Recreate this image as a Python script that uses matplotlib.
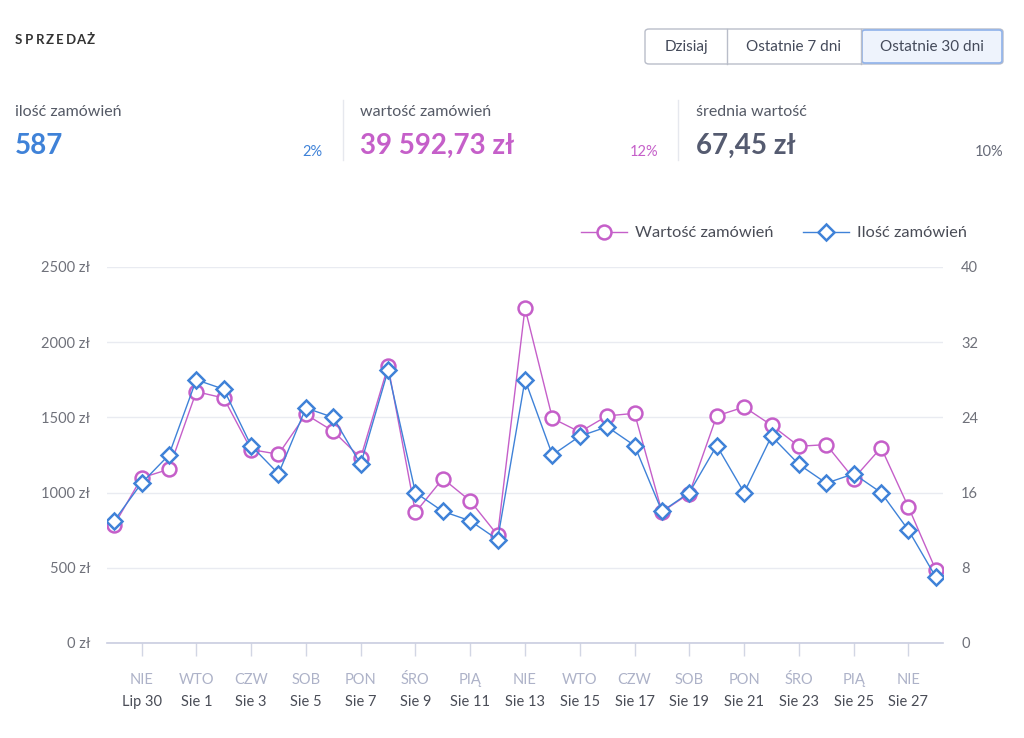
import matplotlib
matplotlib.use("Agg")
import matplotlib.pyplot as plt
from matplotlib.patches import FancyBboxPatch
from matplotlib.lines import Line2D
import matplotlib.transforms as mtransforms

plt.rcParams['font.family'] = ['Lato', 'DejaVu Sans']

# ---------------- data ----------------
dates = ["Lip 29", "Lip 30", "Lip 31",
         "Sie 1", "Sie 2", "Sie 3", "Sie 4", "Sie 5", "Sie 6", "Sie 7",
         "Sie 8", "Sie 9", "Sie 10", "Sie 11", "Sie 12", "Sie 13", "Sie 14",
         "Sie 15", "Sie 16", "Sie 17", "Sie 18", "Sie 19", "Sie 20", "Sie 21",
         "Sie 22", "Sie 23", "Sie 24", "Sie 25", "Sie 26", "Sie 27", "Sie 28"]
weekdays = ["SOB", "NIE", "PON", "WTO", "ŚRO", "CZW", "PIĄ",
            "SOB", "NIE", "PON", "WTO", "ŚRO", "CZW", "PIĄ",
            "SOB", "NIE", "PON", "WTO", "ŚRO", "CZW", "PIĄ",
            "SOB", "NIE", "PON", "WTO", "ŚRO", "CZW", "PIĄ",
            "SOB", "NIE", "PON"]

wartosc = [784, 1098, 1155, 1671, 1629, 1286, 1255, 1520, 1408, 1231, 1841,
           868, 1093, 945, 717, 2227, 1494, 1403, 1510, 1527, 872, 994,
           1510, 1569, 1448, 1308, 1319, 1093, 1299, 903, 485]
ilosc = [13, 17, 20, 28, 27, 21, 18, 25, 24, 19, 29, 16, 14, 13, 11, 28,
         20, 22, 23, 21, 14, 16, 21, 16, 22, 19, 17, 18, 16, 12, 7]

left_ticks = [0, 500, 1000, 1500, 2000, 2500]
left_ticklabels = ["0 zł", "500 zł", "1000 zł", "1500 zł", "2000 zł", "2500 zł"]
right_ticks = [0, 8, 16, 24, 32, 40]

stat_labels = ["ilość zamówień", "wartość zamówień", "średnia wartość"]
stat_values = ["587", "39 592,73 zł", "67,45 zł"]
stat_changes = ["2%", "12%", "10%"]
buttons = ["Dzisiaj", "Ostatnie 7 dni", "Ostatnie 30 dni"]

PURPLE = "#c55fc9"
BLUE = "#3f82d8"
SLATE = "#555b70"

W, H = 1024, 738
fig = plt.figure(figsize=(W / 100, H / 100), dpi=100)
fig.patch.set_facecolor("white")


def fx(px):
    return px / W


def fy(py):
    return 1 - py / H


# ---------------- header ----------------
title = "SPRZEDAŻ"
for i, ch in enumerate(title):
    fig.text(fx(15 + i * 10.2), fy(40), ch, fontsize=9.5, fontweight="bold",
             color="#333333", va="center", ha="left")

# buttons
bx = [645, 727, 861, 1003]
fig.patches.append(FancyBboxPatch((fx(645), fy(64)), fx(1003) - fx(645), fy(29) - fy(64),
                                  boxstyle="round,pad=0,rounding_size=0.004",
                                  transform=fig.transFigure, facecolor="white",
                                  edgecolor="#b9bdc9", linewidth=1.0))
fig.patches.append(FancyBboxPatch((fx(862), fy(63)), fx(1002) - fx(862), fy(30) - fy(63),
                                  boxstyle="round,pad=0,rounding_size=0.003",
                                  transform=fig.transFigure, facecolor="#eef3fc",
                                  edgecolor="#8fb2ea", linewidth=1.2))
for sx in (727, 861):
    fig.lines.append(Line2D([fx(sx), fx(sx)], [fy(64), fy(29)], transform=fig.transFigure,
                            color="#b9bdc9", linewidth=1.0))
for i, b in enumerate(buttons):
    fig.text(fx((bx[i] + bx[i + 1]) / 2), fy(47), b, fontsize=11, color="#444a5a",
             ha="center", va="center")

# stats
stat_x = [15, 360, 696]
stat_colors = [BLUE, PURPLE, SLATE]
chg_x = [322, 658, 1003]
chg_colors = [BLUE, PURPLE, "#666a78"]
for i in range(3):
    fig.text(fx(stat_x[i]), fy(112), stat_labels[i], fontsize=11.5, color="#555a66",
             ha="left", va="center")
    fig.text(fx(stat_x[i]), fy(154), stat_values[i], fontsize=20, fontweight="bold",
             color=stat_colors[i], ha="left", va="baseline")
    fig.text(fx(chg_x[i]), fy(156), stat_changes[i], fontsize=10.5, color=chg_colors[i],
             ha="right", va="baseline")
for sx in (343, 678):
    fig.lines.append(Line2D([fx(sx), fx(sx)], [fy(100), fy(160)], transform=fig.transFigure,
                            color="#e6e8ee", linewidth=1.0))

# ---------------- chart ----------------
ax = fig.add_axes([fx(107), fy(643), fx(943) - fx(107), fy(267) - fy(643)])
ax2 = ax.twinx()
x = list(range(len(wartosc)))

ax.set_xlim(-0.26, len(x) - 1 + 0.26)
ax.set_ylim(0, 2500)
ax2.set_ylim(0, 40)

ax.set_yticks(left_ticks)
ax.set_yticklabels(left_ticklabels)
ax2.set_yticks(right_ticks)
ax2.set_yticklabels([str(t) for t in right_ticks])

ax.grid(axis="y", color="#e9ebf1", linewidth=1.0)
ax.set_axisbelow(True)

for a in (ax, ax2):
    for s in ("top", "left", "right"):
        a.spines[s].set_visible(False)
    a.spines["bottom"].set_color("#c9cde0")
    a.spines["bottom"].set_linewidth(1.2)
ax2.spines["bottom"].set_visible(False)

ax.tick_params(axis="y", length=0, pad=12, labelsize=10.5, labelcolor="#6f717a")
ax2.tick_params(axis="y", length=0, pad=13, labelsize=10.5, labelcolor="#6f717a")

tick_idx = list(range(1, len(x), 2))
ax.set_xticks(tick_idx)
ax.set_xticklabels([""] * len(tick_idx))
ax.tick_params(axis="x", length=9, width=1, color="#d2d6e4", direction="out")

ln1, = ax.plot(x, wartosc, color=PURPLE, linewidth=1.0, marker="o", markersize=10,
               markerfacecolor="white", markeredgecolor=PURPLE, markeredgewidth=1.8,
               label="Wartość zamówień", zorder=3)
ln2, = ax2.plot(x, ilosc, color=BLUE, linewidth=1.0, marker="D", markersize=8,
                markerfacecolor="white", markeredgecolor=BLUE, markeredgewidth=1.8,
                label="Ilość zamówień", zorder=3)

trans = mtransforms.blended_transform_factory(ax.transData, fig.transFigure)
for i in tick_idx:
    ax.text(i, fy(680), weekdays[i], transform=trans, ha="center", va="center",
            fontsize=10.5, color="#adb2c8")
    ax.text(i, fy(702), dates[i], transform=trans, ha="center", va="center",
            fontsize=10.5, color="#4a4d57")

leg = fig.legend(handles=[ln1, ln2], loc="center right",
                 bbox_to_anchor=(fx(982), fy(233)), ncol=2, frameon=False,
                 fontsize=11.8, handlelength=2.8, columnspacing=1.8, handletextpad=0.5)
for t in leg.get_texts():
    t.set_color("#4a4d57")

fig.savefig("out.png", dpi=100)
